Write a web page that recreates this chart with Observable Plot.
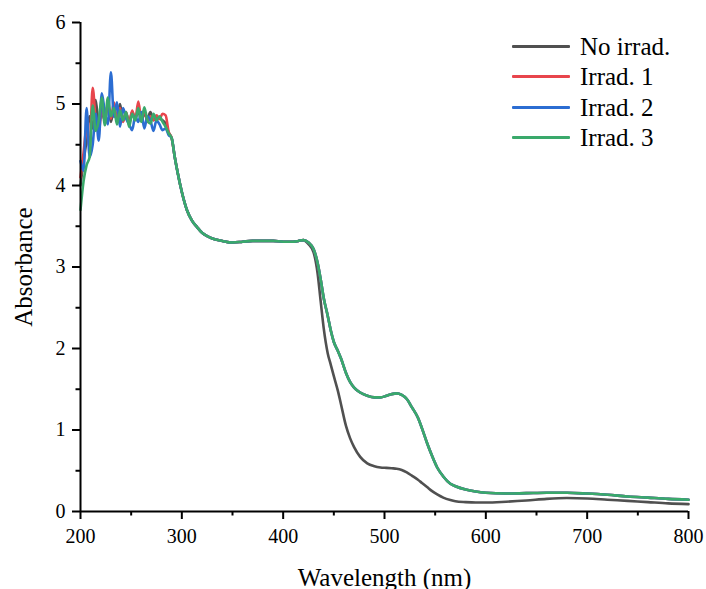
<!DOCTYPE html>
<html>
<head>
<meta charset="utf-8">
<script src="https://cdn.jsdelivr.net/npm/d3@7"></script>
<script src="https://cdn.jsdelivr.net/npm/@observablehq/plot@0.6"></script>
<style>
  body { margin: 0; background: #fff; }
  #wrap { position: relative; width: 706px; height: 589px; font-family: "Liberation Serif", "Times New Roman", Times, "DejaVu Serif", serif; }
  #wrap svg, #wrap svg text { font-family: "Liberation Serif", "Times New Roman", Times, "DejaVu Serif", serif; }
  #wrap svg g[aria-label="x-axis label"] text,
  #wrap svg g[aria-label="y-axis label"] text { font-size: 25px; }
  .legend { position: absolute; left: 512px; top: 31px; }
  .legend .row { display: flex; align-items: center; height: 30.5px; }
  .legend .sw { width: 58px; height: 3px; margin-right: 10px; border-radius: 1px; }
  .legend .lb { font-size: 25px; line-height: 25px; color: #000; }
</style>
</head>
<body>
<div id="wrap"></div>
<script>
// ---- data ----
const seriesNames = ["No irrad.", "Irrad. 1", "Irrad. 2", "Irrad. 3"];
const seriesColors = ["#505050", "#e8454c", "#2b6dd2", "#3aa96b"];

// noisy UV region (nm)
const wlNoisy = [200,203,206,209,212,215,218,221,224,227,230,233,236,239,242,245,248,251,254,257,260,263,266,269,272,275,278,281,284,287,290];
const noIrradNoisy = [4.00,4.30,4.55,4.85,4.70,5.05,4.75,4.90,4.80,5.00,4.78,4.95,4.82,5.00,4.80,4.88,4.78,4.90,4.82,4.92,4.80,4.88,4.82,4.90,4.80,4.85,4.82,4.80,4.76,4.65,4.58];
const irrad1Noisy  = [4.10,4.40,4.70,4.45,5.20,4.80,4.65,4.95,4.80,5.00,4.82,5.02,4.80,4.95,4.78,4.90,4.75,4.92,4.80,5.03,4.82,4.92,4.78,4.85,4.80,4.86,4.82,4.88,4.86,4.66,4.58];
const irrad2Noisy  = [4.30,4.18,4.95,4.35,4.50,4.88,4.55,5.13,4.90,4.75,5.39,4.84,5.02,4.72,4.95,4.82,4.75,4.68,4.85,4.78,4.90,4.70,4.85,4.80,4.67,4.80,4.75,4.68,4.70,4.62,4.58];
const irrad3Noisy  = [3.70,4.05,4.25,4.35,4.98,4.67,4.80,5.08,4.74,5.08,4.85,4.95,4.75,4.92,4.80,4.90,4.72,4.88,4.80,4.95,4.78,4.96,4.80,4.76,4.88,4.80,4.85,4.78,4.72,4.64,4.58];

// smooth region (nm)
const wlSmooth = [293,296,300,305,310,315,320,325,330,340,350,360,370,380,390,400,410,415,420,425,430,434,437,440,444,447,450,454,457,462,466,470,476,483,490,496,502,507,512,517,522,527,533,537,542,547,552,558,565,570,580,590,600,620,640,660,680,700,720,740,760,780,800];
const noIrradSmooth = [4.35,4.15,3.92,3.70,3.57,3.49,3.42,3.38,3.35,3.32,3.30,3.31,3.32,3.32,3.32,3.31,3.31,3.32,3.33,3.28,3.18,2.92,2.58,2.25,1.94,1.80,1.66,1.48,1.32,1.05,0.90,0.79,0.67,0.59,0.555,0.54,0.535,0.53,0.525,0.51,0.48,0.44,0.39,0.35,0.30,0.25,0.21,0.17,0.14,0.125,0.115,0.11,0.11,0.12,0.135,0.155,0.165,0.16,0.145,0.13,0.115,0.10,0.09];
const irradSmooth   = [4.35,4.15,3.92,3.70,3.57,3.49,3.42,3.38,3.35,3.32,3.30,3.31,3.32,3.32,3.32,3.31,3.31,3.32,3.33,3.30,3.22,3.05,2.85,2.62,2.40,2.22,2.08,1.97,1.88,1.70,1.59,1.52,1.46,1.42,1.40,1.40,1.42,1.44,1.45,1.43,1.38,1.28,1.15,1.02,0.84,0.68,0.54,0.43,0.34,0.31,0.27,0.245,0.23,0.22,0.225,0.23,0.23,0.22,0.205,0.185,0.17,0.155,0.145];

const xTicks = [200,300,400,500,600,700,800];
const xMinor = [250,350,450,550,650,750];
const yTicks = [0,1,2,3,4,5,6];
const yMinor = [0.5,1.5,2.5,3.5,4.5,5.5];

// ---- build table ----
const noisySets = [noIrradNoisy, irrad1Noisy, irrad2Noisy, irrad3Noisy];
const smoothSets = [noIrradSmooth, irradSmooth, irradSmooth, irradSmooth];
const rows = [];
seriesNames.forEach((name, i) => {
  wlNoisy.forEach((w, j) => rows.push({wl: w, A: noisySets[i][j], series: name}));
  wlSmooth.forEach((w, j) => rows.push({wl: w, A: smoothSets[i][j], series: name}));
});

const serif = '"Liberation Serif", "Times New Roman", Times, "DejaVu Serif", serif';
const chart = Plot.plot({
  width: 706,
  height: 589,
  marginLeft: 80,
  marginRight: 18,
  marginTop: 22,
  marginBottom: 78,
  style: {fontFamily: serif, fontSize: "20px", color: "#000", background: "#fff"},
  x: {domain: [200, 800]},
  y: {domain: [0, 6]},
  color: {domain: seriesNames, range: seriesColors},
  marks: [
    Plot.line(rows, {x: "wl", y: "A", z: "series", stroke: "series", strokeWidth: 2.6, curve: "monotone-x"}),
    Plot.axisX({ticks: xTicks, tickFormat: d => String(d), tickSize: 8, tickPadding: 9, strokeWidth: 2, fontSize: 20,
      label: "Wavelength (nm)", labelAnchor: "center", labelOffset: 74, labelArrow: "none"}),
    Plot.axisX({ticks: xMinor, tickSize: 4.5, text: null, strokeWidth: 2, label: null}),
    Plot.axisY({ticks: yTicks, tickFormat: d => String(d), tickSize: 8, tickPadding: 7, strokeWidth: 2, fontSize: 20,
      label: "Absorbance", labelAnchor: "center", labelOffset: 66, labelArrow: "none"}),
    Plot.axisY({ticks: yMinor, tickSize: 4.5, text: null, strokeWidth: 2, label: null}),
    Plot.ruleX([200], {strokeWidth: 2}),
    Plot.ruleY([0], {strokeWidth: 2})
  ]
});

const wrap = document.getElementById("wrap");
wrap.appendChild(chart);

// legend overlay
const legend = document.createElement("div");
legend.className = "legend";
seriesNames.forEach((name, i) => {
  const row = document.createElement("div");
  row.className = "row";
  const sw = document.createElement("div");
  sw.className = "sw";
  sw.style.background = seriesColors[i];
  const lb = document.createElement("span");
  lb.className = "lb";
  lb.textContent = name;
  row.appendChild(sw);
  row.appendChild(lb);
  legend.appendChild(row);
});
wrap.appendChild(legend);
</script>
</body>
</html>
